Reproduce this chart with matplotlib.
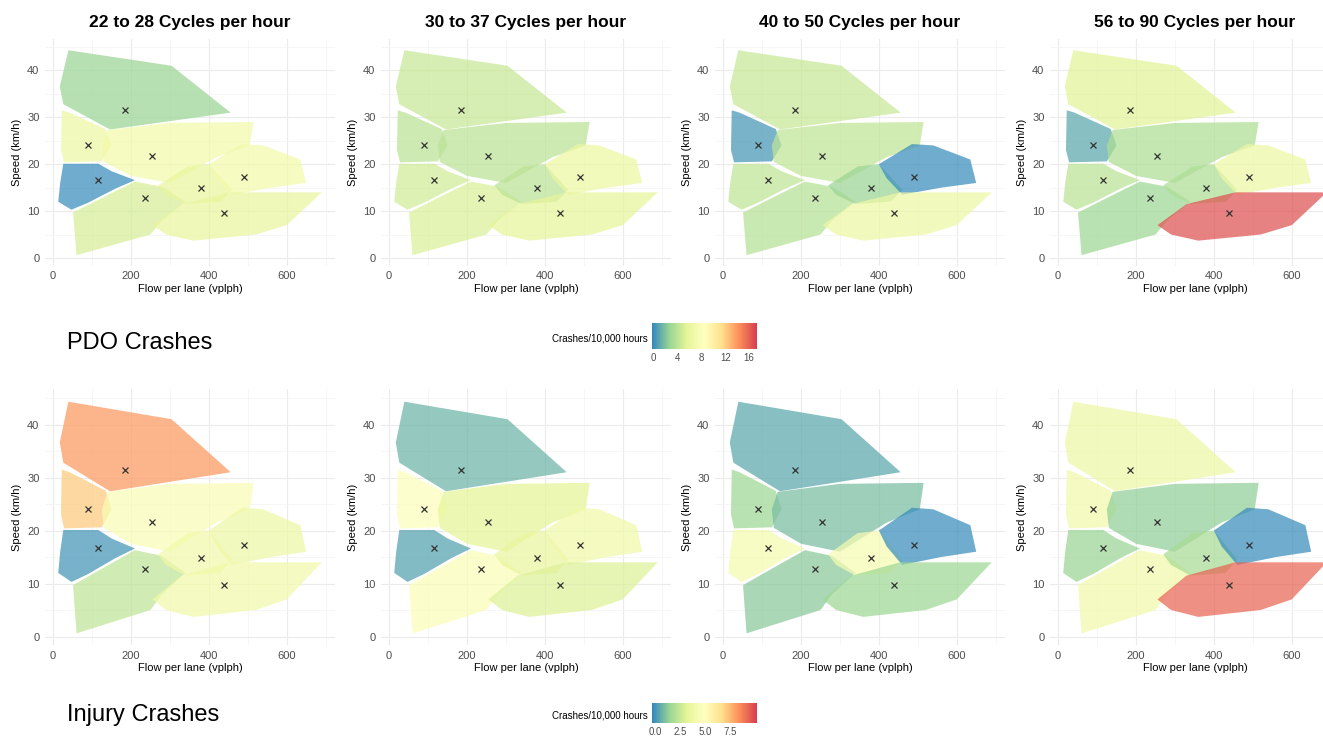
import numpy as np
import matplotlib
matplotlib.use('Agg')
import matplotlib.pyplot as plt
from matplotlib.colors import LinearSegmentedColormap, Normalize
from matplotlib.patches import Polygon
from matplotlib.cm import ScalarMappable

plt.rcParams['font.family'] = ['Liberation Sans', 'DejaVu Sans']

# --- datos ---------------------------------------------------------------
panel_titles = ['22 to 28 Cycles per hour', '30 to 37 Cycles per hour',
                '40 to 50 Cycles per hour', '56 to 90 Cycles per hour']
row_titles = ['PDO Crashes', 'Injury Crashes']

# centroides de los 8 grupos (flujo, velocidad)
centroid_flow = [185, 90, 255, 115, 235, 380, 490, 440]
centroid_speed = [31.5, 24.0, 21.7, 16.7, 12.8, 14.9, 17.2, 9.7]

# envolventes convexas de cada grupo (flujo vplph, velocidad km/h)
hull_c1 = [(39, 44.3), (304, 41.0), (456, 31.0), (146, 27.4), (26, 32.8), (17, 36.6)]
hull_c2 = [(22, 31.5), (42, 31.0), (135, 27.5), (150, 24.0), (125, 20.6), (28, 20.4), (20, 23.0)]
hull_c3 = [(140, 27.3), (300, 28.8), (515, 29.0), (505, 24.0), (420, 21.5), (300, 16.0),
           (200, 17.5), (130, 20.5), (125, 24.0)]
hull_c4 = [(26, 20.1), (116, 20.1), (150, 18.5), (210, 16.6), (160, 14.8), (90, 11.8),
           (47, 10.3), (13, 12.0), (18, 16.0)]
hull_c5 = [(51, 9.7), (130, 13.0), (210, 16.3), (280, 15.2), (340, 12.0), (280, 8.0),
           (250, 5.0), (60, 0.6)]
hull_c6 = [(270, 15.5), (345, 19.5), (400, 20.0), (460, 14.5), (430, 12.0), (340, 11.5), (290, 13.5)]
hull_c7 = [(400, 20.0), (485, 24.3), (540, 24.0), (635, 21.0), (650, 16.0), (560, 15.0),
           (460, 13.5), (420, 17.0)]
hull_c8 = [(255, 7.0), (330, 11.5), (455, 14.0), (690, 14.0), (600, 7.0), (520, 5.0),
           (360, 3.7), (290, 5.0)]
hulls = [hull_c1, hull_c2, hull_c3, hull_c4, hull_c5, hull_c6, hull_c7, hull_c8]

# tasas (choques / 10,000 horas) por panel y grupo
pdo_rates = [
    [2.8, 6.5, 7.0, 0.0, 5.0, 6.0, 7.0, 6.0],
    [4.5, 4.0, 4.0, 4.8, 5.2, 4.0, 6.3, 5.8],
    [4.5, 0.4, 4.2, 4.2, 3.8, 2.8, 0.0, 6.5],
    [5.5, 1.0, 3.5, 4.0, 3.0, 3.5, 6.5, 16.5],
]
injury_rates = [
    [8.2, 7.2, 4.5, 0.0, 2.3, 4.0, 3.8, 4.0],
    [0.7, 4.8, 3.2, 0.3, 4.6, 3.4, 3.9, 3.0],
    [0.4, 1.6, 0.9, 4.2, 1.2, 4.3, -0.2, 1.6],
    [3.8, 4.0, 1.3, 1.5, 4.0, 1.8, -0.2, 9.3],
]
pdo_ticks = [0, 4, 8, 12, 16]
injury_ticks = [0.0, 2.5, 5.0, 7.5]

# --- estilo ---------------------------------------------------------------
spectral = ['#3288BD', '#99D594', '#E6F598', '#FFFFBF', '#FEE08B', '#FC8D59', '#D53E4F']
cmap = LinearSegmentedColormap.from_list('spectral7', spectral)
norms = [Normalize(-0.2, 17.3), Normalize(-0.3, 10.2)]

W, H = 1323, 737
fig = plt.figure(figsize=(W / 100, H / 100), dpi=100)

def px_axes(x0, y0, x1, y1):
    return fig.add_axes([x0 / W, 1 - y1 / H, (x1 - x0) / W, (y1 - y0) / H])

col_left = [45, 381, 715, 1050]
row_span = [(39, 265.5), (389, 645)]

for r, (rates, norm) in enumerate(zip([pdo_rates, injury_rates], norms)):
    for c in range(4):
        ax = px_axes(col_left[c], row_span[r][0], col_left[c] + 290, row_span[r][1])
        for hull, val in zip(hulls, rates[c]):
            ax.add_patch(Polygon(hull, closed=True, facecolor=cmap(norm(val)),
                                 edgecolor='none', alpha=0.72))
        ax.plot(centroid_flow, centroid_speed, 'x', color='#333333', ms=4, mew=0.9)
        ax.set_xlim(-21, 724)
        ax.set_ylim(-1.6, 46.7)
        ax.set_xticks([0, 200, 400, 600])
        ax.set_xticks([100, 300, 500, 700], minor=True)
        ax.set_yticks([0, 10, 20, 30, 40])
        ax.set_yticks([5, 15, 25, 35, 45], minor=True)
        ax.grid(True, which='major', color='#ebebeb', lw=0.8)
        ax.grid(True, which='minor', color='#f3f3f3', lw=0.5)
        ax.set_axisbelow(True)
        ax.tick_params(which='both', length=0, labelsize=8, labelcolor='#4d4d4d', pad=4)
        for s in ax.spines.values():
            s.set_visible(False)
        ax.set_xlabel('Flow per lane (vplph)', fontsize=8, labelpad=2)
        ax.set_ylabel('Speed (km/h)', fontsize=8, labelpad=4)
        if r == 0:
            ax.set_title(panel_titles[c], fontsize=12.5, fontweight='bold', pad=9)

    # leyenda de color
    cy0, cy1 = (323, 349) if r == 0 else (703, 723)
    cax = px_axes(652, cy0, 757, cy1)
    cb = fig.colorbar(ScalarMappable(norm=norm, cmap=cmap), cax=cax, orientation='horizontal')
    cb.set_ticks(pdo_ticks if r == 0 else injury_ticks)
    cb.outline.set_visible(False)
    cax.tick_params(length=0, labelsize=7, labelcolor='#4d4d4d', pad=3)
    cax.text(-0.04, 0.4, 'Crashes/10,000 hours', transform=cax.transAxes,
             ha='right', va='center', fontsize=7)

    ty = 343 if r == 0 else 715
    fig.text(67 / W, 1 - ty / H, row_titles[r], fontsize=17, ha='left', va='center')

plt.savefig('out.png', dpi=100)
